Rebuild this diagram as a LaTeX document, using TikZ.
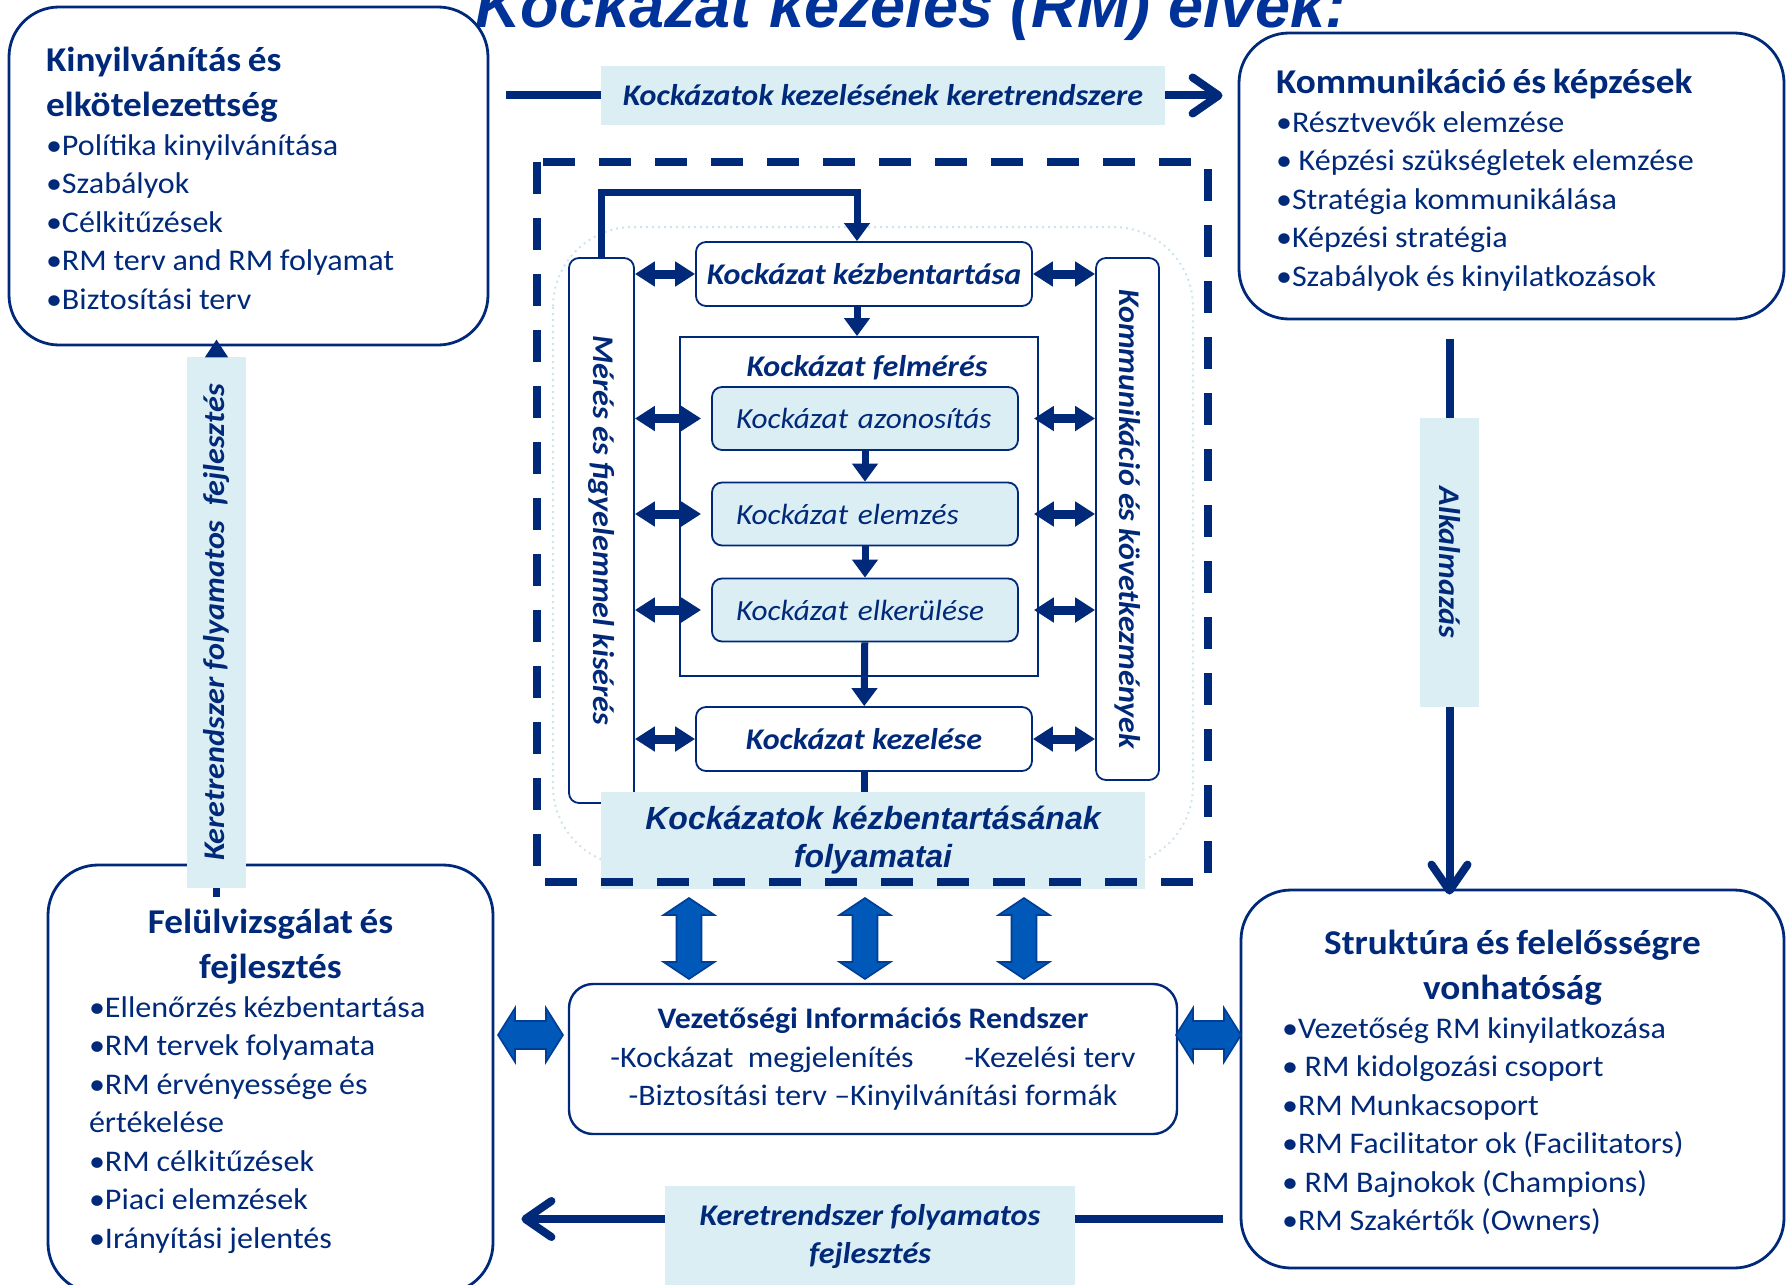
\documentclass[tikz,border=0pt]{standalone}
\usepackage{fontspec}
\setmainfont{Carlito}[FakeStretch=1.07]
\newfontfamily\arialfont{Liberation Sans}
\usepackage{tikz}
\usetikzlibrary{arrows.meta,positioning}

\definecolor{rmnavy}{RGB}{0,41,122}
\definecolor{rmlight}{RGB}{218,238,243}
\definecolor{rmblue}{RGB}{0,88,184}
\definecolor{rmedge}{RGB}{0,62,150}
\definecolor{rmtitle}{RGB}{0,51,153}
\definecolor{rmfaint}{RGB}{205,228,238}

\newcommand{\boxhead}{\fontsize{17.4}{22.5}\selectfont\bfseries}
\newcommand{\boxlist}{\fontsize{15}{19.25}\selectfont}
\newcommand{\stepfont}{\fontsize{15}{18}\selectfont\itshape}
\newcommand{\lblfont}{\fontsize{15}{19}\selectfont\bfseries\itshape}

\tikzset{bigbox/.style={draw=rmnavy,line width=1.4pt,rounded corners=25pt,
                        text=rmnavy,align=left}}
\tikzset{lblbox/.style={fill=rmlight,text=rmnavy,inner sep=0pt,align=center,font=\lblfont}}

% vertical double block arrow: x, top tip, bottom tip
\newcommand{\vblock}[3]{%
  \draw[blockarrow] (#1,#2) -- ++(25.5,17) -- ++(-13,0) -- (#1+12.5,#3-17)
    -- ++(13,0) -- (#1,#3) -- ++(-25.5,-17) -- ++(13,0) -- (#1-12.5,#2+17)
    -- ++(-13,0) -- cycle;}
% horizontal double block arrow: y, left tip, right tip
\newcommand{\hblock}[3]{%
  \draw[blockarrow] (#2,#1) -- ++(17,-27) -- ++(0,13) -- (#3-17,#1-14)
    -- ++(0,-13) -- (#3,#1) -- ++(-17,27) -- ++(0,-13) -- (#2+17,#1+14)
    -- ++(0,13) -- cycle;}

\begin{document}
\begin{tikzpicture}[x=0.5pt, y=-0.5pt,
    % styles for the inner process
    stepbox/.style ={draw=rmnavy, line width=0.9pt, rounded corners=5pt, fill=white,
                     text=rmnavy, font=\stepfont\bfseries, inner sep=0pt},
    substep/.style ={stepbox, fill=rmlight, font=\fontsize{14.6}{18}\selectfont\itshape,
                     text width=129pt, align=left},
    sidebox/.style ={draw=rmnavy, line width=0.9pt, rounded corners=5pt, fill=white,
                     text=rmnavy, inner sep=0pt, font=\fontsize{15}{19}\selectfont\bfseries\itshape},
    flow/.style    ={rmnavy, line width=3.5pt, -{Triangle[length=9pt,width=12.5pt]}},
    both/.style    ={rmnavy, line width=4.5pt,
                     {Triangle[length=10pt,width=12pt]}-{Triangle[length=10pt,width=12pt]}},
    bar/.style     ={rmnavy, line width=4pt},
    chev/.style    ={bar, -{Straight Barb[length=13pt,width=18pt,round]}},
    blockarrow/.style={fill=rmblue, draw=rmedge, line width=0.8pt, line join=miter}
  ]
  \useasboundingbox (0,0) rectangle (1786,1284);
  \clip (0,0) rectangle (1786,1284);

  % faint frame behind the process
  \draw[rmfaint, dotted, line width=1pt, rounded corners=40pt] (553,227) rectangle (1193,866);

  \node[anchor=base, text=rmtitle, font=\arialfont\fontsize{31.5}{36}\selectfont\bfseries\itshape]
    (title) at (911,28) {Kockázat kezelés (RM) elvek:};

  % the four corner boxes
  \node[bigbox, minimum width=239.5pt, minimum height=169pt, text width=202.5pt] (kinyil) at (248.5,176) {%
    {\boxhead Kinyilvánítás és\\ elkötelezettség\par}
    \boxlist •Polítika kinyilvánítása\\ •Szabályok\\ •Célkitűzések\\ •RM terv and RM folyamat\\
    •Biztosítási terv\par\vspace{-2.3pt}};
  \node[bigbox, minimum width=272.5pt, minimum height=143pt, text width=235.5pt] (kommkep) at (1511.5,176) {%
    {\boxhead Kommunikáció és képzések\par}
    \boxlist •Résztvevők elemzése\\ • Képzési szükségletek elemzése\\ •Stratégia kommunikálása\\
    •Képzési stratégia\\ •Szabályok és kinyilatkozások\par\vspace{-4pt}};
  \node[bigbox, minimum width=222.5pt, minimum height=214pt, text width=181.5pt] (felul) at (270.5,1079) {%
    {\centering\boxhead Felülvizsgálat és\\ fejlesztés\par}
    \boxlist •Ellenőrzés kézbentartása\\ •RM tervek folyamata\\ •RM érvényessége és\\ értékelése\\
    •RM célkitűzések\\ •Piaci elemzések\\ •Irányítási jelentés\par\vspace{-2.3pt}};
  \node[bigbox, minimum width=271.5pt, minimum height=189pt, text width=230.5pt] (strukt) at (1512.5,1079) {%
    {\centering\boxhead Struktúra és felelősségre\\ vonhatóság\par}
    \boxlist •Vezetőség RM kinyilatkozása\\ • RM kidolgozási csoport\\ •RM Munkacsoport\\
    •RM Facilitator ok (Facilitators)\\ • RM Bajnokok (Champions)\\ •RM Szakértők (Owners)\par\vspace{-3.4pt}};

  % arrows round the outside
  \node[lblbox, minimum width=282pt, minimum height=29.5pt] (kkeret) at (883,95.5)
    {Kockázatok kezelésének keretrendszere};
  \draw[bar, shorten <=8.5pt] (kinyil.east |- kkeret) -- (kkeret.west);
  \draw[chev, shorten >=7.5pt] (kkeret.east) -- (kommkep.west |- kkeret);

  \node[lblbox, minimum width=29.5pt, minimum height=144.5pt] (alk) at (1449.5,562.5)
    {\rotatebox{-90}{Alkalmazás}};
  \draw[bar, shorten <=9.5pt] (kommkep.south -| alk) -- (alk.north);
  \draw[chev, shorten >=-3pt] (alk.south) -- (strukt.north -| alk);

  \node[lblbox, minimum width=205pt, minimum height=50pt] (kfejl) at (870,1236)
    {Keretrendszer folyamatos\\ fejlesztés};
  \coordinate (kfejlbar) at ([yshift=8.5pt]kfejl.center);
  \draw[bar, shorten <=8.5pt] (strukt.west |- kfejlbar) -- (kfejlbar -| kfejl.east);
  \draw[chev, shorten >=13.5pt] (kfejlbar -| kfejl.west) -- (felul.east |- kfejlbar);

  \node[lblbox, minimum width=29.5pt, minimum height=265.5pt] (lkeret) at (216.5,622.5)
    {\rotatebox{90}{Keretrendszer folyamatos\ \ fejlesztés}};
  \draw[bar, line width=3.5pt] (felul.north -| lkeret) ++(0,33) -- (lkeret.south);
  \draw[flow, shorten >=-3.5pt, -{Triangle[length=9pt,width=11pt]}] (lkeret.north) -- (kinyil.south -| lkeret);

  % the process itself
  \node[sidebox, minimum width=32.5pt, minimum height=272.5pt] (meres) at (601.5,530.5)
    {\rotatebox{-90}{Mérés és figyelemmel kisérés}};
  \node[sidebox, minimum width=31.5pt, minimum height=261pt] (kovetk) at (1127.5,519)
    {\rotatebox{-90}{Kommunikáció és következmények}};
  \node[stepbox, minimum width=168pt, minimum height=32pt] (kezb) at (864,274) {Kockázat kézbentartása};
  \node[draw=rmnavy, line width=0.9pt, minimum width=179pt, minimum height=169.5pt] (felm) at (859,506.5) {};
  \node[anchor=base, text=rmnavy, font=\stepfont\bfseries] (felmcim) at ([xshift=4pt,yshift=-20pt]felm.north)
    {Kockázat felmérés};
  \node[substep, minimum width=153pt, minimum height=31.5pt] (azon) at (865,418.5) {Kockázat azonosítás};
  \node[substep, minimum width=153pt, minimum height=31.5pt] (elem) at (865,514) {Kockázat elemzés};
  \node[substep, minimum width=153pt, minimum height=31.5pt] (elker) at (865,610) {Kockázat elkerülése};
  \node[stepbox, minimum width=168pt, minimum height=32pt] (kezel) at (864,739) {Kockázat kezelése};

  \draw[flow, line join=miter] (meres.north) -- ++(0,-65) -| ([xshift=-3.5pt]kezb.north);
  \draw[flow] ([xshift=-3.5pt]kezb.south) -- ([xshift=-3.5pt]kezb.south |- felm.north);
  \draw[flow] (azon) -- (elem);
  \draw[flow] (elem) -- (elker);
  \draw[flow] (elker) -- (kezel);

  \draw[both] (meres.east |- kezb.west) -- (kezb.west);
  \draw[both, shorten >=5pt] (meres.east |- azon.west) -- (azon.west);
  \draw[both, shorten >=5pt] (meres.east |- elem.west) -- (elem.west);
  \draw[both, shorten >=5pt] (meres.east |- elker.west) -- (elker.west);
  \draw[both] (meres.east |- kezel.west) -- (kezel.west);
  \draw[both] (kezb.east) -- (kezb.east -| kovetk.west);
  \draw[both, shorten <=7.5pt] (azon.east) -- (azon.east -| kovetk.west);
  \draw[both, shorten <=7.5pt] (elem.east) -- (elem.east -| kovetk.west);
  \draw[both, shorten <=7.5pt] (elker.east) -- (elker.east -| kovetk.west);
  \draw[both] (kezel.east) -- (kezel.east -| kovetk.west);

  \node[lblbox, minimum width=272pt, minimum height=48.5pt,
        font=\arialfont\fontsize{16}{19}\selectfont\bfseries\itshape] (kfolyam) at (873,840.5)
    {Kockázatok kézbentartásának\\ folyamatai};
  \draw[bar, line width=3.5pt] (kezel.south) -- (kezel.south |- kfolyam.north);
  \draw[rmnavy, line width=4pt, dash pattern=on 16pt off 12pt] (537,162) rectangle (1208,882);

  % management information system
  \node[draw=rmnavy, line width=1.2pt, rounded corners=12pt, text=rmnavy, align=center,
        minimum width=304pt, minimum height=75pt, font=\fontsize{14.9}{19.25}\selectfont] (vir) at (873,1059)
    {\textbf{Vezetőségi Információs Rendszer}\\
     -Kockázat\ \ megjelenítés\hspace{1.7em}-Kezelési terv\\
     -Biztosítási terv –Kinyilvánítási formák};

  \vblock{689}{898}{979}
  \vblock{865}{898}{979}
  \vblock{1024}{898}{979}
  \hblock{1035}{498}{563}
  \hblock{1035}{1176}{1241}
\end{tikzpicture}
\end{document}
